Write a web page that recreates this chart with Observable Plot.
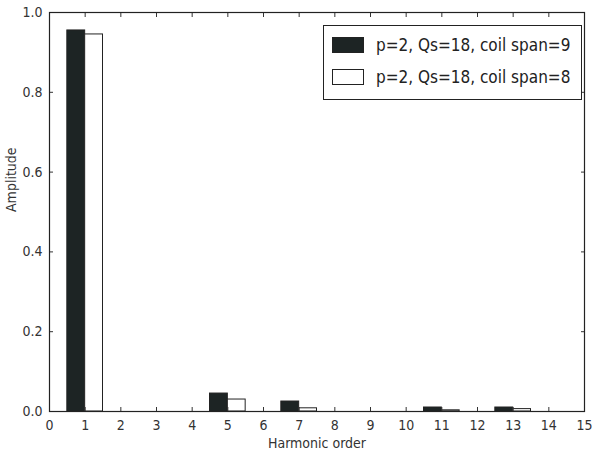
<!DOCTYPE html>
<html>
<head>
<meta charset="utf-8">
<script src="https://cdn.jsdelivr.net/npm/d3@7"></script>
<script src="https://cdn.jsdelivr.net/npm/@observablehq/plot@0.6"></script>
<style>
  html, body { margin: 0; padding: 0; background: #fff; }
  #wrap { position: relative; width: 593px; height: 459px; }
  #legend {
    position: absolute; left: 323px; top: 25px; width: 257px; height: 73px;
    border: 1.3px solid #222; background: #fff;
    font-family: "DejaVu Sans Condensed", "DejaVu Sans", sans-serif; font-size: 17px; color: #222;
  }
  .row { position: absolute; left: 8px; display: flex; align-items: center; }
  .sw { width: 30px; height: 14px; border: 1.2px solid #222; margin-right: 12px; }
</style>
</head>
<body>
<div id="wrap"></div>
<script>
const harmonics = [1, 5, 7, 11, 13];
const span9 = [0.955, 0.045, 0.025, 0.010, 0.010];
const span8 = [0.945, 0.030, 0.008, 0.003, 0.006];
const seriesNames = ["p=2, Qs=18, coil span=9", "p=2, Qs=18, coil span=8"];
const xTicks = d3.range(0, 16);
const yTicks = [0, 0.2, 0.4, 0.6, 0.8, 1.0];

const rows = [];
harmonics.forEach((h, i) => {
  rows.push({h, v: span9[i], s: seriesNames[0], x1: h - 0.5, x2: h});
  rows.push({h, v: span8[i], s: seriesNames[1], x1: h, x2: h + 0.5});
});

const font = `"DejaVu Sans Condensed", "DejaVu Sans", sans-serif`;
const chart = Plot.plot({
  width: 593, height: 459,
  marginLeft: 49, marginRight: 9, marginTop: 12, marginBottom: 48,
  style: {fontFamily: font, fontSize: "14px", color: "#333", background: "#fff"},
  x: {domain: [0, 15], label: null},
  y: {domain: [0, 1], label: null},
  marks: [
    Plot.rectY(rows, {x1: "x1", x2: "x2", y: "v",
      fill: d => d.s === seriesNames[0] ? "#1d2424" : "#fff",
      stroke: "#222", strokeWidth: 1}),
    Plot.axisX({ticks: xTicks, tickSize: -4, tickPadding: 13, tickFormat: d => d, fontSize: 14, stroke: "#333"}),
    Plot.axisX({anchor: "top", ticks: xTicks, tickSize: -4, tickFormat: () => "", label: null, stroke: "#333"}),
    Plot.axisY({ticks: yTicks, tickSize: -4, tickPadding: 11, tickFormat: d3.format(".1f"), fontSize: 14, stroke: "#333"}),
    Plot.axisY({anchor: "right", ticks: yTicks, tickSize: -4, tickFormat: () => "", label: null, stroke: "#333"}),
    Plot.frame({stroke: "#222", strokeWidth: 1.2}),
    Plot.text(["Harmonic order"], {frameAnchor: "bottom", dy: 36, fontSize: 14, fill: "#333"}),
    Plot.text(["Amplitude"], {frameAnchor: "left", dx: -38, rotate: -90, fontSize: 14, fill: "#333"})
  ]
});
const wrap = document.getElementById("wrap");
wrap.appendChild(chart);

const leg = document.createElement("div");
leg.id = "legend";
seriesNames.forEach((name, i) => {
  const r = document.createElement("div");
  r.className = "row";
  r.style.top = (i === 0 ? 9 : 41) + "px";
  const sw = document.createElement("div");
  sw.className = "sw";
  sw.style.background = i === 0 ? "#1d2424" : "#fff";
  const t = document.createElement("span");
  t.textContent = name;
  r.appendChild(sw); r.appendChild(t);
  leg.appendChild(r);
});
wrap.appendChild(leg);
</script>
</body>
</html>
